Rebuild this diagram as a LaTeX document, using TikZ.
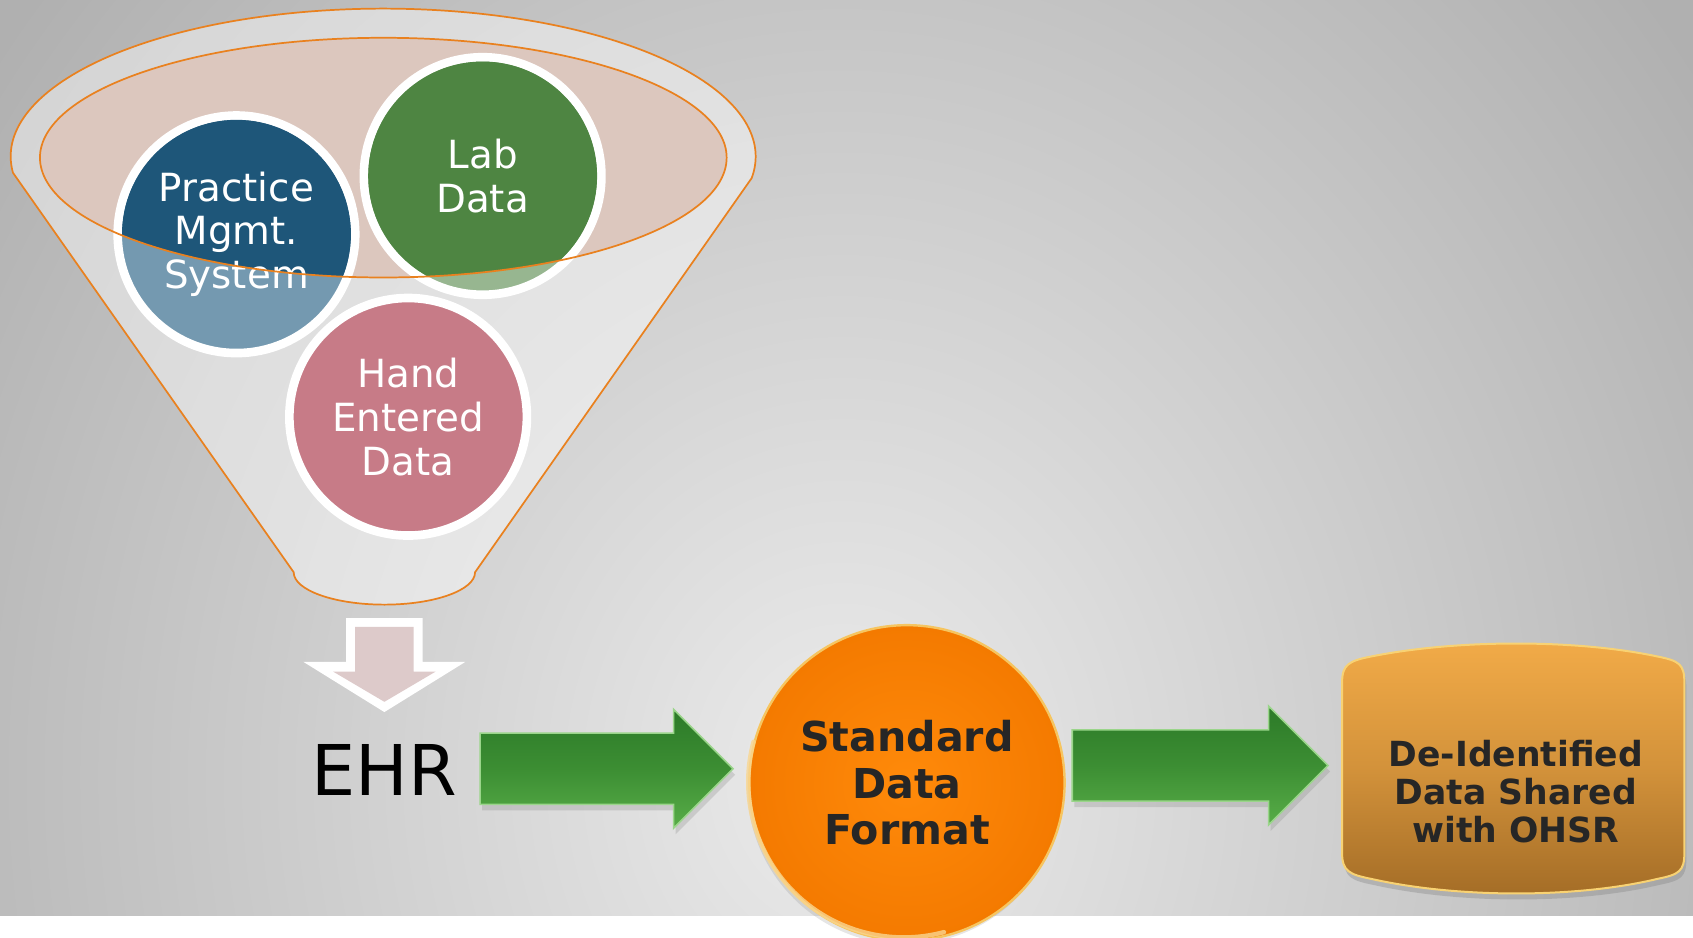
\documentclass[tikz,border=0pt]{standalone}
\usepackage{fontspec}
\setmainfont{DejaVu Sans}
\usetikzlibrary{calc,shadows}

\definecolor{bgdark}{HTML}{B0B0B0}
\definecolor{bglight}{HTML}{EBEBEB}
\definecolor{funnelline}{HTML}{E9811F}
\definecolor{mouthfill}{HTML}{DCC7BE}
\definecolor{pmsdark}{HTML}{1E5679}
\definecolor{pmslight}{HTML}{7499B0}
\definecolor{labdark}{HTML}{4E8542}
\definecolor{lablight}{HTML}{97B690}
\definecolor{handfill}{HTML}{C77B87}
\definecolor{downpink}{HTML}{DDCACA}
\definecolor{arrowtop}{HTML}{2C7A28}
\definecolor{arrowmid}{HTML}{3C8E33}
\definecolor{arrowbot}{HTML}{58AD48}
\definecolor{arrowedge}{HTML}{9AD58A}
\definecolor{stdinner}{HTML}{FF8A0A}
\definecolor{stdouter}{HTML}{F47A00}
\definecolor{stdedge}{HTML}{F6C560}
\definecolor{boxtop}{HTML}{F2AB48}
\definecolor{boxbot}{HTML}{A36C26}
\definecolor{boxedge}{HTML}{F8D273}
\definecolor{darktext}{HTML}{262626}

\tikzset{
  srcdisc/.style={circle, draw=white, line width=8*0.54pt, minimum size=220*0.54pt, inner sep=0pt},
  srctext/.style={text=white, align=center, inner sep=0pt, font=\fontsize{19.4pt}{21.9pt}\selectfont},
  funnelrim/.style={draw=funnelline, line width=1.6*0.54pt},
  greenarrow/.style={top color=arrowtop, bottom color=arrowbot, middle color=arrowmid,
    draw=arrowedge, line width=0.8pt, drop shadow={opacity=0.25, shadow xshift=1pt, shadow yshift=-3pt}},
  steptext/.style={text=darktext, align=center, inner sep=0pt}
}

% horizontal block arrow from #1 to the tip #2
\newcommand\blockarrow[2]{%
  \path[greenarrow] let \p1=#1, \p2=#2 in
    (\x1,\y2+17.8pt) -- (\x2-29.7pt,\y2+17.8pt) -- (\x2-29.7pt,\y2+29.7pt)
    -- (\x2,\y2) -- (\x2-29.7pt,\y2-29.7pt) -- (\x2-29.7pt,\y2-17.8pt)
    -- (\x1,\y2-17.8pt) -- cycle;}

\begin{document}
\begin{tikzpicture}[x=0.54pt, y=-0.54pt]
\useasboundingbox (0,0) rectangle (1568,868);

% backdrop
\fill[bgdark] (0,0) rectangle (1568,848);
\begin{scope}
  \clip (0,0) rectangle (1568,848);
  \shade[inner color=bglight, outer color=bgdark] (780,720) ellipse (980 and 1120);
\end{scope}
\fill[white] (0,848) rectangle (1568,868);

% funnel
\coordinate (fbot) at (356,560);
\fill[white, opacity=0.45] (12,160) arc[start angle=173.7, end angle=368.4, x radius=345, y radius=137]
  -- (440,530) arc[start angle=0, end angle=180, x radius=84, y radius=30] -- cycle;
\fill[mouthfill] (355,146) ellipse (318 and 111);

% data sources
\node[srcdisc, fill=pmslight] (pms) at (219,217) {};
\node[srcdisc, fill=lablight] (lab) at (447,163) {};
\node[srcdisc, fill=handfill] (hand) at (378,386) {};
\begin{scope}
  \clip (355,146) ellipse (318 and 111);
  \fill[pmsdark] (pms.center) circle (106);
  \fill[labdark] (lab.center) circle (106);
\end{scope}
\node[srctext] (pmstext) at (pms) {Practice\\Mgmt.\\System};
\node[srctext] (labtext) at (lab) {Lab\\Data};
\node[srctext] (handtext) at (hand) {Hand\\Entered\\Data};

\draw[funnelrim] (355,146) ellipse (318 and 111);
\draw[funnelrim] (12,160) arc[start angle=173.7, end angle=368.4, x radius=345, y radius=137]
  -- (440,530) arc[start angle=0, end angle=180, x radius=84, y radius=30] -- cycle;

% funnel -> EHR
\fill[white] ($(fbot)+(-35.5,12.5)$) -- ++(71,0) -- ++(0,40.5) -- ++(39.5,0)
  -- ++(-75,46.5) -- ++(-75,-46.5) -- ++(39.5,0) -- cycle;
\fill[downpink] ($(fbot)+(-27,20.6)$) -- ++(54,0) -- ++(0,41.4) -- ++(20.5,0)
  -- ++(-47.5,28) -- ++(-47.5,-28) -- ++(20.5,0) -- cycle;

\node[inner sep=0pt, font=\fontsize{35pt}{40pt}\selectfont] (ehr) at (356,713) {EHR};

% standard format
\node[circle, minimum size=292*0.54pt, inner sep=0pt, inner color=stdinner, outer color=stdouter,
  draw=stdedge, line width=1.2pt, drop shadow={opacity=0.2, shadow xshift=-1pt, shadow yshift=-2pt}]
  (std) at (840,725) {};
\draw[stdedge!70!white, line width=2.2pt, line cap=round, opacity=0.8]
  (std.165) arc[start angle=-165, end angle=-285, radius=144];
\node[steptext, font=\bfseries\fontsize{20.6pt}{23.2pt}\selectfont] (stdtext) at (std) {Standard\\Data\\Format};

% shared data
\coordinate (deidw) at (1243,709);
\path[top color=boxtop, bottom color=boxbot, middle color=boxtop!60!boxbot, draw=boxedge, line width=1pt,
  drop shadow={opacity=0.35, shadow xshift=1pt, shadow yshift=-3pt}]
  (1243,632) .. controls (1243,615) and (1250,612) .. (1270,608)
  .. controls (1350,592) and (1460,592) .. (1535,608)
  .. controls (1555,612) and (1560,615) .. (1560,632)
  -- (1560,790) .. controls (1560,807) and (1555,810) .. (1535,814)
  .. controls (1460,832) and (1350,832) .. (1270,814)
  .. controls (1250,810) and (1243,807) .. (1243,790) -- cycle;
\node[steptext, font=\bfseries\fontsize{17.3pt}{18.9pt}\selectfont] (deid) at (1404,733)
  {De-Identified\\Data Shared\\with OHSR};

% flow arrows
\blockarrow{($(ehr.east)+(21,0)$)}{($(ehr.east -| std.west)+(-14,-1)$)}
\blockarrow{($(deidw -| std.east)+(6,0)$)}{($(deidw)+(-13,0)$)}
\end{tikzpicture}
\end{document}
